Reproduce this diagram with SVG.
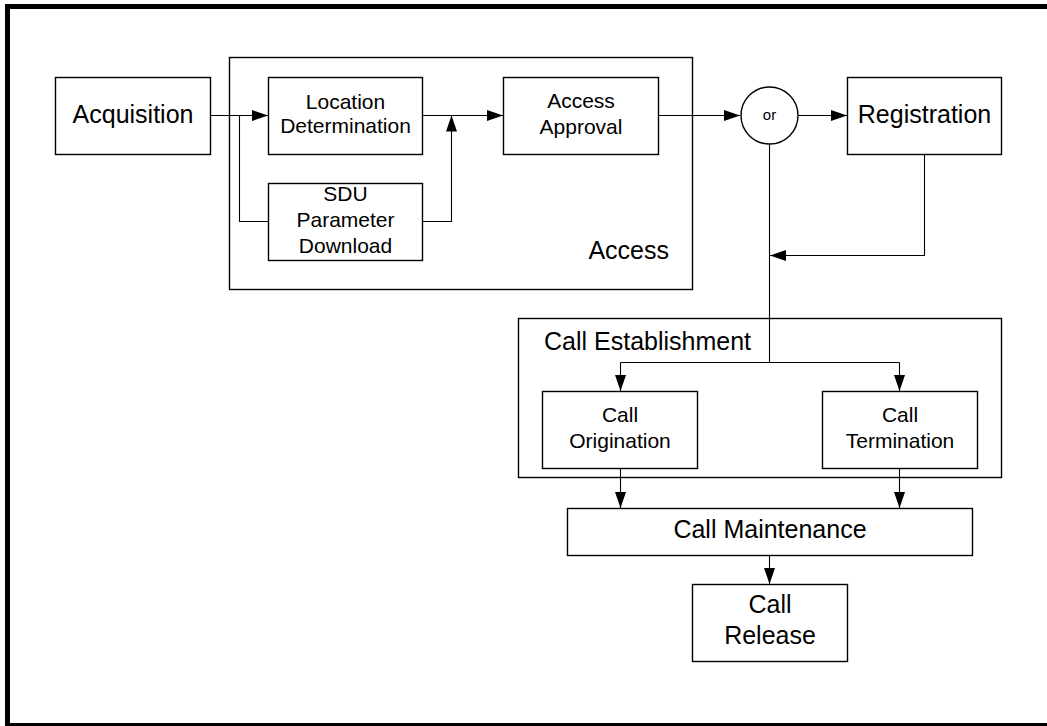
<svg xmlns="http://www.w3.org/2000/svg" width="1047" height="726" viewBox="0 0 1047 726">
<style>
  .box { fill: #ffffff; stroke: #000000; stroke-width: 1.4; }
  .grp { fill: none; stroke: #000000; stroke-width: 1.4; }
  .ln { fill: none; stroke: #000000; stroke-width: 1.1; }
  text { font-family: "Liberation Sans", Arial, sans-serif; fill: #000000; text-anchor: middle; }
  .big { font-size: 25px; }
  .sm { font-size: 21px; }
  .tiny { font-size: 15px; }
</style>
<defs>
  <marker id="arr" markerUnits="userSpaceOnUse" markerWidth="17" markerHeight="12" refX="16" refY="5.5" orient="auto">
    <path d="M0,0 L16,5.5 L0,11 z" fill="#000000"/>
  </marker>
</defs>
<rect x="0" y="0" width="1047" height="726" fill="#ffffff"/>
<rect id="frame" x="7.5" y="6.5" width="1050" height="719" fill="none" stroke="#000000" stroke-width="5"/>

<g id="access-group">
  <rect class="grp" x="229.5" y="57.5" width="463" height="232"/>
  <text class="big" x="669" y="259" style="text-anchor:end">Access</text>
</g>
<g id="callest-group">
  <rect class="grp" x="518.5" y="318.5" width="483" height="159"/>
  <text class="big" x="544" y="350" style="text-anchor:start">Call Establishment</text>
</g>

<g id="connectors">
  <path class="ln" d="M210,115.5 H268" marker-end="url(#arr)"/>
  <path class="ln" d="M239.5,115.5 V221.5 H268"/>
  <path class="ln" d="M422,221.5 H451.5 V115.5" marker-end="url(#arr)"/>
  <path class="ln" d="M422,115.5 H503" marker-end="url(#arr)"/>
  <path class="ln" d="M658,115.5 H740" marker-end="url(#arr)"/>
  <path class="ln" d="M798,115.5 H847" marker-end="url(#arr)"/>
  <path class="ln" d="M769.5,144 V362.5"/>
  <path class="ln" d="M620.5,362.5 H899.5"/>
  <path class="ln" d="M620.5,362.5 V391" marker-end="url(#arr)"/>
  <path class="ln" d="M899.5,362.5 V391" marker-end="url(#arr)"/>
  <path class="ln" d="M924.5,154 V255.5 H770" marker-end="url(#arr)"/>
  <path class="ln" d="M620.5,468 V508" marker-end="url(#arr)"/>
  <path class="ln" d="M899.5,468 V508" marker-end="url(#arr)"/>
  <path class="ln" d="M769.5,555 V584" marker-end="url(#arr)"/>
</g>

<g id="acquisition">
  <rect class="box" x="55.5" y="77.5" width="155" height="77"/>
  <text class="big" x="133" y="123">Acquisition</text>
</g>
<g id="location">
  <rect class="box" x="268.5" y="77.5" width="154" height="77"/>
  <text class="sm" x="345.5" y="109">Location</text>
  <text class="sm" x="345.5" y="133">Determination</text>
</g>
<g id="sdu">
  <rect class="box" x="268.5" y="183.5" width="154" height="77"/>
  <text class="sm" x="345.5" y="201">SDU</text>
  <text class="sm" x="345.5" y="227">Parameter</text>
  <text class="sm" x="345.5" y="253">Download</text>
</g>
<g id="approval">
  <rect class="box" x="503.5" y="77.5" width="155" height="77"/>
  <text class="sm" x="581" y="108">Access</text>
  <text class="sm" x="581" y="134">Approval</text>
</g>
<g id="or">
  <circle cx="769.5" cy="115.5" r="28.5" fill="#ffffff" stroke="#000000" stroke-width="1.4"/>
  <text class="tiny" x="769.5" y="120">or</text>
</g>
<g id="registration">
  <rect class="box" x="847.5" y="77.5" width="154" height="77"/>
  <text class="big" x="924.5" y="123">Registration</text>
</g>
<g id="origination">
  <rect class="box" x="542.5" y="391.5" width="155" height="77"/>
  <text class="sm" x="620" y="422">Call</text>
  <text class="sm" x="620" y="448">Origination</text>
</g>
<g id="termination">
  <rect class="box" x="822.5" y="391.5" width="155" height="77"/>
  <text class="sm" x="900" y="422">Call</text>
  <text class="sm" x="900" y="448">Termination</text>
</g>
<g id="maintenance">
  <rect class="box" x="567.5" y="508.5" width="405" height="47"/>
  <text class="big" x="770" y="538">Call Maintenance</text>
</g>
<g id="release">
  <rect class="box" x="692.5" y="584.5" width="155" height="77"/>
  <text class="big" x="770" y="613">Call</text>
  <text class="big" x="770" y="644">Release</text>
</g>
</svg>
